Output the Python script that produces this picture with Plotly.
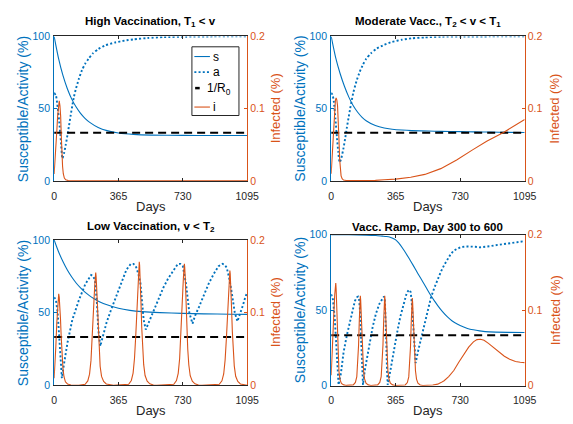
import plotly.graph_objects as go

W, H = 573, 424
BLUE = '#0072BD'
ORANGE = '#D95319'
DARK = '#262626'
FONT = 'Liberation Sans, Arial, Helvetica, sans-serif'

# ---------------- data ----------------
titles = ['<b>High Vaccination, T<sub>1</sub> &lt; v</b>',
          '<b>Moderate Vacc., T<sub>2</sub> &lt; v &lt; T<sub>1</sub></b>',
          '<b>Low Vaccination, v &lt; T<sub>2</sub></b>',
          '<b>Vacc. Ramp, Day 300 to 600</b>']
x_ticks = [0, 365, 730, 1095]
left_ticks = [0, 50, 100]
right_ticks = [0, 0.1, 0.2]
right_ticktext = ['0', '0.1', '0.2']
r0_days = [0, 1095]
r0_line = [33.3, 33.3]

# Panel 1: High vaccination
s1_days = [0, 25, 50, 75, 100, 125, 150, 175, 200, 250, 300, 365, 450, 550, 730, 900, 1095]
s1 = [100, 84.8, 73.0, 63.8, 56.6, 51.1, 46.7, 43.3, 40.7, 37.0, 34.8, 33.2, 32.2, 31.7, 31.5, 31.4, 31.4]
a1_days = [0, 11, 20, 29, 38, 47, 56, 66, 76, 85, 94, 103, 112, 122, 140, 158, 176, 195, 220, 251,
           290, 343, 400, 453, 530, 619, 750, 900, 1095]
a1 = [61, 58.7, 51, 41, 28, 15.5, 19, 25, 32, 38.6, 45.5, 52, 58, 63, 70.5, 76.7, 81, 84.5, 88.3, 91.3,
      93.8, 95.7, 97.1, 98, 98.9, 99.5, 99.8, 100, 100]
i1_days = [0, 5, 10, 15, 20, 25, 29, 33, 37, 41, 44, 48, 52, 58, 66, 80, 120, 200, 1095]
i1 = [0.0095, 0.025, 0.045, 0.068, 0.09, 0.106, 0.111, 0.104, 0.09, 0.06, 0.037, 0.02, 0.01, 0.004,
      0.0015, 0.0005, 0.0001, 0.0, 0.0]

# Panel 2: Moderate vaccination
s2_days = [0, 25, 50, 75, 100, 125, 150, 175, 200, 250, 300, 345, 400, 456, 550, 621, 730, 805, 900, 1000, 1095]
s2 = [100, 85.5, 74.5, 65.5, 58, 52, 47.5, 44, 41.5, 38.3, 36.6, 35.8, 35.2, 34.8, 34.5, 34.3, 34.1, 33.9,
      33.8, 33.6, 33.5]
a2_days = [0, 8, 15, 24, 33, 40, 48, 58, 70, 80, 88, 98, 107, 116, 125, 143, 162, 180, 198, 225, 254,
           300, 345, 400, 456, 530, 621, 750, 900, 1095]
a2 = [61, 59.5, 55, 43, 29.6, 20, 12.8, 16, 22.9, 30, 36.3, 43.5, 49.8, 55.5, 61, 69, 75.6, 80.5, 84.5,
      88.3, 91.3, 94.2, 96.2, 97.7, 98.7, 99.3, 99.8, 99.9, 100, 100]
i2_days = [0, 5, 10, 15, 20, 24, 28, 32, 36, 40, 44, 48, 52, 56, 62, 70, 85, 150, 250, 300, 365, 450,
           530, 620, 710, 800, 880, 975, 1040, 1095]
i2 = [0.0099, 0.03, 0.056, 0.082, 0.102, 0.112, 0.115, 0.112, 0.104, 0.088, 0.058, 0.03, 0.014, 0.007,
      0.003, 0.0012, 0.0006, 0.0003, 0.0007, 0.0015, 0.0025, 0.005, 0.009, 0.017, 0.029, 0.043, 0.055,
      0.067, 0.077, 0.085]

# Panel 3: Low vaccination
s3_days = [0, 25, 50, 75, 100, 125, 150, 175, 200, 227, 260, 300, 365, 430, 500, 600, 730, 850, 1000, 1095]
s3 = [100, 91.9, 85.1, 79.3, 74.5, 70.4, 67, 64.1, 61.7, 59.6, 57.4, 55.4, 53, 51.6, 50.7, 50, 49.5,
      49.2, 48.9, 48.8]
a3_days = [0, 10, 20, 30, 38, 44, 55, 76, 103, 140, 177, 195, 210, 222, 232, 242, 251, 262, 275, 297,
           320, 343, 366, 389, 410, 435, 450, 463, 477, 490, 500, 508, 520, 540, 564, 590, 619, 647,
           675, 702, 716, 730, 748, 767, 785, 800, 822, 850, 877, 905, 933, 955, 967, 979, 993, 1006,
           1025, 1040, 1055, 1071, 1083, 1095]
a3 = [60.5, 59, 50, 30, 12, 5, 14, 29.5, 45, 58.5, 69.6, 73.5, 75.9, 75, 72, 58, 38, 27, 33, 43,
      51, 58.5, 66, 74, 79.5, 83.5, 83.5, 82, 77, 70, 58, 45, 38.4, 44, 52, 59, 67, 73.5,
      78.6, 83.5, 83.5, 82, 70, 50, 42.5, 48, 54, 62.5, 70, 76.5, 82, 83.5, 83, 81, 74, 65,
      50, 44, 49, 55, 60, 64]
i3_days = [0, 5, 10, 15, 20, 23, 26, 29, 32, 36, 40, 45, 50, 56, 64, 76, 95, 140,
           176, 191, 201, 209, 216, 222, 227, 231, 234, 236, 238, 241, 245, 250, 255, 261, 269, 281, 296, 316,
           336,
           423, 438, 448, 456, 463, 469, 474, 478, 481, 483, 485, 488, 492, 497, 502, 508, 516, 528, 543, 563,
           583,
           679, 694, 704, 712, 719, 725, 730, 734, 737, 739, 741, 744, 748, 753, 758, 764, 772, 784, 799, 819,
           839,
           937, 952, 962, 970, 977, 983, 988, 992, 995, 997, 999, 1002, 1006, 1011, 1016, 1022, 1030, 1042,
           1057, 1077, 1095]
i3 = [0.01, 0.028, 0.055, 0.085, 0.11, 0.121, 0.126, 0.121, 0.112, 0.092, 0.068, 0.042, 0.024, 0.012,
      0.005, 0.002, 0.0007, 0.0003,
      0.0016, 0.0062, 0.0155, 0.0341, 0.062, 0.093, 0.121, 0.1395, 0.150, 0.155, 0.150, 0.136, 0.1085,
      0.0729, 0.0465, 0.0264, 0.0124, 0.0054, 0.002, 0.0006, 0.0002,
      0.0017, 0.0068, 0.017, 0.0374, 0.068, 0.102, 0.1326, 0.153, 0.165, 0.170, 0.165, 0.1496, 0.119,
      0.0799, 0.051, 0.0289, 0.0136, 0.006, 0.0022, 0.0007, 0.0003,
      0.0017, 0.0067, 0.0167, 0.0367, 0.0668, 0.1002, 0.1303, 0.1503, 0.162, 0.167, 0.162, 0.147, 0.1169,
      0.0785, 0.0501, 0.0284, 0.0134, 0.0058, 0.0022, 0.0007, 0.0003,
      0.0016, 0.0063, 0.0158, 0.0348, 0.0632, 0.0948, 0.1232, 0.1422, 0.1533, 0.158, 0.1533, 0.139,
      0.1106, 0.0743, 0.0474, 0.0269, 0.0126, 0.0055, 0.0021, 0.0006, 0.0003]

# Panel 4: Vaccination ramp
s4_days = [0, 100, 200, 253, 290, 310, 330, 345, 365, 382, 410, 437, 465, 492, 520, 547, 565, 585, 603,
           630, 658, 685, 713, 750, 786, 840, 896, 1000, 1095]
s4 = [100, 99.9, 99.7, 99.4, 99, 98.8, 98.5, 97.8, 96.5, 94.5, 90, 85, 79.5, 74, 68.5, 63, 59.5, 56, 53,
      49, 45.5, 42.8, 40.8, 38.8, 37.3, 36.3, 35.6, 35.3, 35.2]
a4_days = [0, 10, 20, 30, 38, 42, 55, 70, 88, 107, 120, 134, 145, 152, 158, 163, 168, 172, 176, 180,
           190, 217, 235, 253, 272, 290, 299, 304, 308, 312, 316, 320,
           335, 355, 373, 391, 410, 428, 441, 450, 456, 462, 468, 474, 478, 490, 511, 530, 547, 565,
           584, 603, 621, 640, 658, 676, 694, 713, 731, 760, 786, 815, 841, 870, 896, 930, 970, 1010,
           1043, 1070, 1095]
a4 = [60.5, 57, 45, 25, 8, 0.5, 8, 22, 33, 43, 50, 56, 58.5, 59, 57, 50, 35, 18, 3, 0.5,
      10, 28, 39, 47.6, 54, 57.5, 59, 56, 45, 28, 10, 0.5,
      10, 24, 35, 45.5, 54.5, 61.6, 63.5, 62, 55, 42, 28, 18, 15, 22, 32.6, 42, 51, 58.5,
      64.8, 70.5, 75.5, 80, 84, 87, 89.5, 90.8, 91.6, 92.2, 92.3, 92, 91.6, 91.8, 92.3, 93, 93.8, 94.4,
      94.8, 95.3, 95.7]
i4_days = [0, 5, 10, 15, 20, 23, 26, 28, 31, 35, 39, 44, 50, 58, 71, 86,
           125, 137, 145, 151, 155, 159, 162, 165, 167, 170, 174, 178, 183, 189, 197, 210, 225,
           263, 275, 283, 289, 293, 297, 300, 303, 305, 308, 312, 316, 321, 327, 335, 348, 363,
           419, 431, 439, 445, 449, 453, 456, 459, 461, 464, 468, 472, 477, 483, 491, 504, 519,
           575, 603, 621, 639, 665, 694, 722, 750, 778, 805, 825, 845, 865, 890, 920, 950, 980, 1010,
           1043, 1070, 1095]
i4 = [0.0137, 0.035, 0.063, 0.095, 0.12, 0.131, 0.136, 0.128, 0.103, 0.065, 0.038, 0.019, 0.008, 0.003,
      0.001, 0.0003,
      0.001, 0.0042, 0.0119, 0.0298, 0.0536, 0.0857, 0.1071, 0.119, 0.113, 0.0952, 0.0655, 0.0393, 0.0202,
      0.0089, 0.0033, 0.001, 0.0002,
      0.001, 0.0042, 0.0119, 0.0298, 0.0536, 0.0857, 0.1071, 0.119, 0.113, 0.0952, 0.0655, 0.0393, 0.0202,
      0.0089, 0.0033, 0.001, 0.0002,
      0.0009, 0.0041, 0.0116, 0.029, 0.0522, 0.0835, 0.1044, 0.116, 0.1102, 0.0928, 0.0638, 0.0383,
      0.0197, 0.0087, 0.0032, 0.0009, 0.0002,
      0.0008, 0.002, 0.004, 0.0065, 0.012, 0.02, 0.031, 0.041, 0.051, 0.058, 0.061, 0.0615, 0.06, 0.056,
      0.05, 0.044, 0.039, 0.035, 0.032, 0.031, 0.0305]

series = [
    (s1_days, s1, a1_days, a1, i1_days, i1),
    (s2_days, s2, a2_days, a2, i2_days, i2),
    (s3_days, s3, a3_days, a3, i3_days, i3),
    (s4_days, s4, a4_days, a4, i4_days, i4),
]

# ---------------- layout geometry (pixels) ----------------
# (left, right, top, bottom) of each plot area
boxes = [(52.5, 250.7, 31.3, 180.0),
         (337.0, 535.7, 31.3, 180.0),
         (52.5, 250.7, 240.7, 390.5),
         (337.0, 535.7, 235.3, 390.7)]
left_label_x = [20, 305, 20, 305]
right_label_x = [280, 567, 280, 567]
title_y = [16.5, 16.5, 227, 227]


def px(x):
    return x / W


def py(y):
    return 1 - y / H


def ax(prefix, n):
    return prefix if n == 1 else f'{prefix}{n}'


fig = go.Figure()
layout = dict(width=W, height=H, margin=dict(l=0, r=0, t=0, b=0),
              paper_bgcolor='white', plot_bgcolor='white', showlegend=False,
              font=dict(family=FONT, size=10.5, color=DARK))
annotations = []
shapes = []

for k in range(4):
    n = k + 1
    xl, xr, yt, yb = boxes[k]
    xa = ax('x', n)
    yl = ax('y', 2 * n - 1)
    yr = ax('y', 2 * n)
    sd, sv, ad, av, idd, iv = series[k]
    smooth = 'spline' if k in (0, 1) else 'linear'
    fig.add_trace(go.Scatter(x=sd, y=sv, xaxis=xa, yaxis=yl, mode='lines', name='s',
                             line=dict(color=BLUE, width=1.1, shape='spline', smoothing=0.6)))
    fig.add_trace(go.Scatter(x=ad, y=av, xaxis=xa, yaxis=yl, mode='lines', name='a',
                             line=dict(color=BLUE, width=1.9, dash='2px,2.2px', shape=smooth,
                                       smoothing=0.5)))
    fig.add_trace(go.Scatter(x=r0_days, y=r0_line, xaxis=xa, yaxis=yl, mode='lines', name='1/R0',
                             line=dict(color='black', width=2, dash='8px,5px')))
    fig.add_trace(go.Scatter(x=idd, y=iv, xaxis=xa, yaxis=yr, mode='lines', name='i',
                             line=dict(color=ORANGE, width=1.1)))

    layout[ax('xaxis', n)] = dict(
        domain=[px(xl), px(xr)], anchor=yl, range=[0, 1095], tickvals=x_ticks,
        ticks='inside', ticklen=3, tickcolor=DARK, showline=True, linecolor=DARK, linewidth=1,
        mirror='ticks', showgrid=False, zeroline=False, ticklabelstandoff=5,
        tickfont=dict(family=FONT, size=10.5, color=DARK))
    layout[ax('yaxis', 2 * n - 1)] = dict(
        domain=[py(yb), py(yt)], anchor=xa, range=[0, 100], tickvals=left_ticks,
        ticks='inside', ticklen=3, tickcolor=BLUE, showline=True, linecolor=BLUE, linewidth=1,
        showgrid=False, zeroline=False, ticklabelstandoff=1,
        tickfont=dict(family=FONT, size=10.5, color=BLUE))
    layout[ax('yaxis', 2 * n)] = dict(
        domain=[py(yb), py(yt)], anchor=xa, overlaying=yl, side='right', range=[0, 0.2],
        tickvals=right_ticks, ticktext=right_ticktext,
        ticks='inside', ticklen=3, tickcolor=ORANGE, showline=True, linecolor=ORANGE, linewidth=1,
        showgrid=False, zeroline=False, tickfont=dict(family=FONT, size=10.5, color=ORANGE))

    cx = (xl + xr) / 2
    cy = (yt + yb) / 2
    annotations.append(dict(text=titles[k], x=px(cx), y=py(title_y[k]), xref='paper', yref='paper',
                            xanchor='center', yanchor='middle', showarrow=False,
                            font=dict(family=FONT, size=11.5, color='black')))
    annotations.append(dict(text='Days', x=px(cx), y=py(yb + 26), xref='paper', yref='paper',
                            xanchor='center', yanchor='middle', showarrow=False,
                            font=dict(family=FONT, size=13, color=DARK)))
    annotations.append(dict(text='Susceptible/Activity (%)', x=px(left_label_x[k]), y=py(cy),
                            xref='paper', yref='paper', xanchor='center', yanchor='middle',
                            textangle=-90, showarrow=False,
                            font=dict(family=FONT, size=14, color=BLUE)))
    annotations.append(dict(text='Infected (%)', x=px(right_label_x[k]), y=py(cy),
                            xref='paper', yref='paper', xanchor='center', yanchor='middle',
                            textangle=-90, showarrow=False,
                            font=dict(family=FONT, size=13, color=ORANGE)))

# ---------------- legend (top-left panel) ----------------
leg_box = (194, 242.3, 42, 112.7)
leg_rows = [('s', 52, 'solid'), ('a', 68, 'dot'), ('1/R<sub>0</sub>', 85.5, 'dash'), ('i', 104, 'solid')]
shapes.append(dict(type='rect', xref='paper', yref='paper', x0=px(leg_box[0]), x1=px(leg_box[1]),
                   y0=py(leg_box[3]), y1=py(leg_box[2]), line=dict(color=DARK, width=1),
                   fillcolor='white', layer='above'))
for label, yy, kind in leg_rows:
    if kind == 'solid':
        col = ORANGE if label == 'i' else BLUE
        shapes.append(dict(type='line', xref='paper', yref='paper', x0=px(196.5), x1=px(212.5),
                           y0=py(yy), y1=py(yy), line=dict(color=col, width=1.1), layer='above'))
        tx = 213.5
    elif kind == 'dot':
        shapes.append(dict(type='line', xref='paper', yref='paper', x0=px(196.5), x1=px(212.5),
                           y0=py(yy), y1=py(yy), line=dict(color=BLUE, width=1.9, dash='2px,2.2px'),
                           layer='above'))
        tx = 213.5
    else:
        shapes.append(dict(type='line', xref='paper', yref='paper', x0=px(197.3), x1=px(202),
                           y0=py(yy - 1), y1=py(yy - 1), line=dict(color='black', width=2.5),
                           layer='above'))
        tx = 207.5
    annotations.append(dict(text=label, x=px(tx), y=py(yy), xref='paper', yref='paper',
                            xanchor='left', yanchor='middle', showarrow=False,
                            font=dict(family=FONT, size=12, color='black')))

layout['annotations'] = annotations
layout['shapes'] = shapes
fig.update_layout(**layout)
fig.write_html('out.html')
